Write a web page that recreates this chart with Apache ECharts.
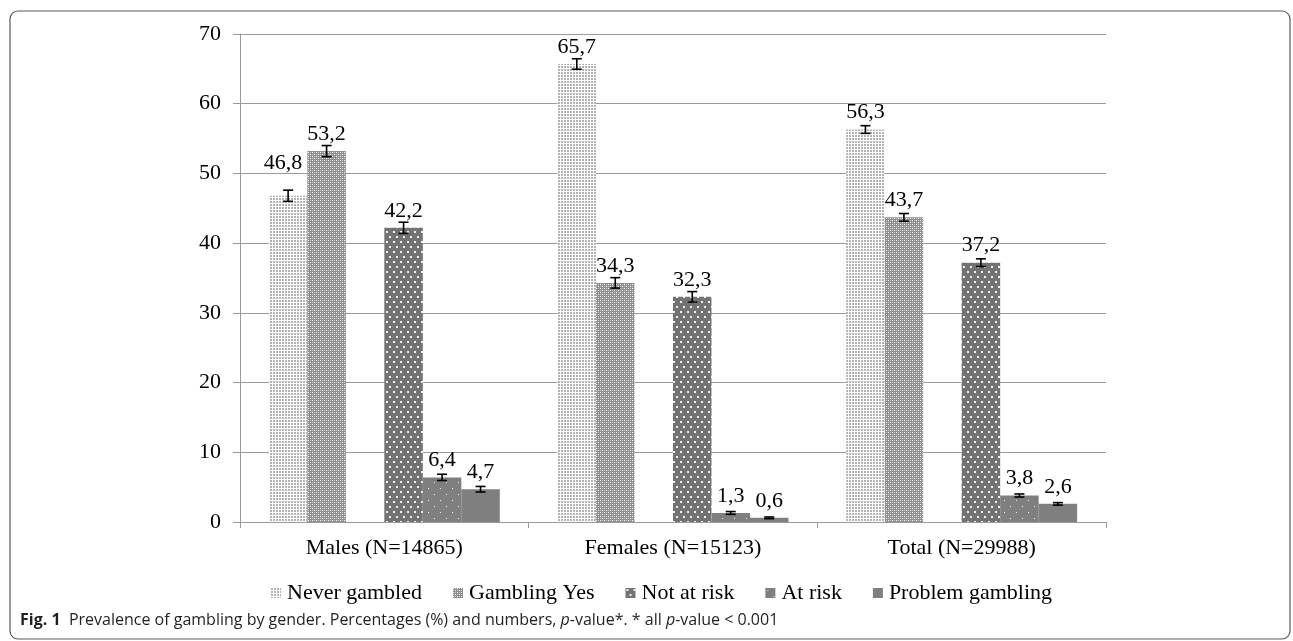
<!DOCTYPE html>
<html>
<head>
<meta charset="utf-8">
<script src="https://cdn.jsdelivr.net/npm/echarts@6/dist/echarts.min.js"></script>
<style>
  html, body { margin: 0; padding: 0; background: #ffffff; }
  #chart { width: 1293px; height: 641px; }
</style>
</head>
<body>
<div id="chart"></div>
<script>
// Prevalence of gambling (%) by gender
const categories = ['Males (N=14865)', 'Females (N=15123)', 'Total (N=29988)'];
const seriesNames = ['Never gambled', 'Gambling Yes', 'Not at risk', 'At risk', 'Problem gambling'];

const neverGambled    = [46.8, 65.7, 56.3];
const gamblingYes     = [53.2, 34.3, 43.7];
const notAtRisk       = [42.2, 32.3, 37.2];
const atRisk          = [6.4, 1.3, 3.8];
const problemGambling = [4.7, 0.6, 2.6];

// half-widths of the 95% confidence intervals (percentage points)
const ciNeverGambled    = [0.8, 0.75, 0.55];
const ciGamblingYes     = [0.8, 0.75, 0.55];
const ciNotAtRisk       = [0.8, 0.75, 0.55];
const ciAtRisk          = [0.45, 0.2, 0.22];
const ciProblemGambling = [0.4, 0.12, 0.18];

const yTicks = [0, 10, 20, 30, 40, 50, 60, 70];

const values = [neverGambled, gamblingYes, notAtRisk, atRisk, problemGambling];
const intervals = [ciNeverGambled, ciGamblingYes, ciNotAtRisk, ciAtRisk, ciProblemGambling];

// bar slots per category: the two gambling bars, an empty slot, then the three risk bars
const SLOT_OF_SERIES = [0, 1, 3, 4, 5];
const SLOTS = 6;
const CAT_GAP = 0.2;

const SERIF = '"Liberation Serif", "Times New Roman", serif';
const SANS = '"Open Sans", "Noto Sans", sans-serif';

function tile(w, h, bg, marks) {
  const c = document.createElement('canvas');
  c.width = w; c.height = h;
  const ctx = c.getContext('2d');
  ctx.fillStyle = bg;
  ctx.fillRect(0, 0, w, h);
  marks.forEach(function (m) {
    ctx.fillStyle = m[4];
    ctx.fillRect(m[0], m[1], m[2], m[3]);
  });
  return { image: c, repeat: 'repeat' };
}

const fills = [
  // fine light dots
  tile(3, 3, '#ffffff', [[0, 0, 2, 2, '#b2b2b2']]),
  // gray confetti
  tile(4, 4, '#8e8e8e', [[0, 0, 1, 1, '#ffffff'], [2, 2, 1, 1, '#ffffff'], [2, 0, 1, 1, '#c8c8c8'], [0, 2, 1, 1, '#c8c8c8']]),
  // dark gray with staggered white dots
  tile(7, 10, '#737373', [[1, 1, 2, 2, '#f0f0f0'], [4, 6, 2, 2, '#f0f0f0']]),
  // gray with sparse white dots
  tile(12, 12, '#7f7f7f', [[2, 2, 1, 1, '#f4f4f4'], [8, 8, 1, 1, '#f4f4f4']]),
  // solid gray
  '#7f7f7f'
];

// extra lift for labels that sit clear of their neighbours
const labelNudge = { 'Never gambled|0': [-5, -16] };

function fmt(v) { return v.toFixed(1).replace('.', ','); }

const barSeries = [];
seriesNames.forEach(function (name, s) {
  if (s === 2) {
    barSeries.push({
      type: 'bar', name: '_spacer', data: categories.map(function () { return null; }),
      barGap: '0%', barCategoryGap: (CAT_GAP * 100) + '%', silent: true
    });
  }
  barSeries.push({
    type: 'bar',
    name: name,
    barGap: '0%',
    barCategoryGap: (CAT_GAP * 100) + '%',
    itemStyle: { color: fills[s] },
    label: {
      show: true, position: 'top', distance: 6,
      fontFamily: SERIF, fontSize: 22, color: '#000',
      formatter: function (p) { return fmt(p.value); }
    },
    data: values[s].map(function (v, c) {
      const n = labelNudge[name + '|' + c];
      return n ? { value: v, label: { offset: n } } : v;
    }),
    z: 2
  });
});

// error bars: [category index, slot, value, half-width]
const errData = [];
values.forEach(function (arr, s) {
  arr.forEach(function (v, c) { errData.push([c, SLOT_OF_SERIES[s], v, intervals[s][c]]); });
});

const errorSeries = {
  type: 'custom',
  name: 'ci',
  silent: true,
  z: 5,
  encode: { x: 0, y: 2 },
  data: errData,
  renderItem: function (params, api) {
    const c = api.value(0), slot = api.value(1), v = api.value(2), e = api.value(3);
    const catW = api.size([1, 0])[0];
    const groupW = catW * (1 - CAT_GAP);
    const barW = groupW / SLOTS;
    const cx = api.coord([c, 0])[0] - groupW / 2 + (slot + 0.5) * barW;
    const yHi = api.coord([c, v + e])[1];
    const yLo = api.coord([c, v - e])[1];
    const half = 5;
    const st = { stroke: '#000', lineWidth: 1.6 };
    return {
      type: 'group',
      children: [
        { type: 'line', shape: { x1: cx, y1: yHi, x2: cx, y2: yLo }, style: st },
        { type: 'line', shape: { x1: cx - half, y1: yHi, x2: cx + half, y2: yHi }, style: st },
        { type: 'line', shape: { x1: cx - half, y1: yLo, x2: cx + half, y2: yLo }, style: st }
      ]
    };
  }
};

const chart = echarts.init(document.getElementById('chart'), null, { renderer: 'canvas' });

chart.setOption({
  animation: false,
  backgroundColor: '#ffffff',
  grid: { left: 240, right: 187, top: 34, bottom: 119, containLabel: false },
  legend: {
    data: seriesNames,
    left: 266, top: 577,
    orient: 'horizontal',
    itemWidth: 10, itemHeight: 10, itemGap: 31,
    icon: 'rect',
    textStyle: { fontFamily: SERIF, fontSize: 22, color: '#000', padding: [0, 0, 0, 1] },
    selectedMode: false
  },
  xAxis: {
    type: 'category',
    data: categories,
    axisLine: { lineStyle: { color: '#9a9a9a', width: 1 } },
    axisTick: { show: true, length: 6, lineStyle: { color: '#9a9a9a' } },
    axisLabel: { fontFamily: SERIF, fontSize: 22, color: '#000', margin: 15 },
    splitLine: { show: false }
  },
  yAxis: {
    type: 'value',
    min: yTicks[0], max: yTicks[yTicks.length - 1], interval: yTicks[1] - yTicks[0],
    axisLine: { show: true, lineStyle: { color: '#9a9a9a', width: 1 } },
    axisTick: { show: true, length: 7, lineStyle: { color: '#9a9a9a' } },
    axisLabel: { fontFamily: SERIF, fontSize: 22, color: '#000', margin: 19 },
    splitLine: { show: true, lineStyle: { color: '#9a9a9a', width: 1 } }
  },
  graphic: [
    {
      type: 'rect', silent: true, z: 0,
      shape: { x: 10, y: 11, width: 1280, height: 628, r: 8 },
      style: { fill: 'none', stroke: '#5a5a5a', lineWidth: 1.2 }
    },
    {
      type: 'text', left: 20, top: 612, silent: true,
      style: {
        text: '{b|Fig. 1}  Prevalence of gambling by gender. Percentages (%) and numbers, {i|p}-value*. * all {i|p}-value < 0.001',
        font: '16px ' + SANS,
        fill: '#231f20',
        rich: {
          b: { fontWeight: 'bold', fontFamily: SANS, fontSize: 16, fill: '#231f20' },
          i: { fontStyle: 'italic', fontFamily: SANS, fontSize: 16, fill: '#231f20' }
        }
      }
    }
  ],
  series: barSeries.concat([errorSeries])
});
</script>
</body>
</html>
